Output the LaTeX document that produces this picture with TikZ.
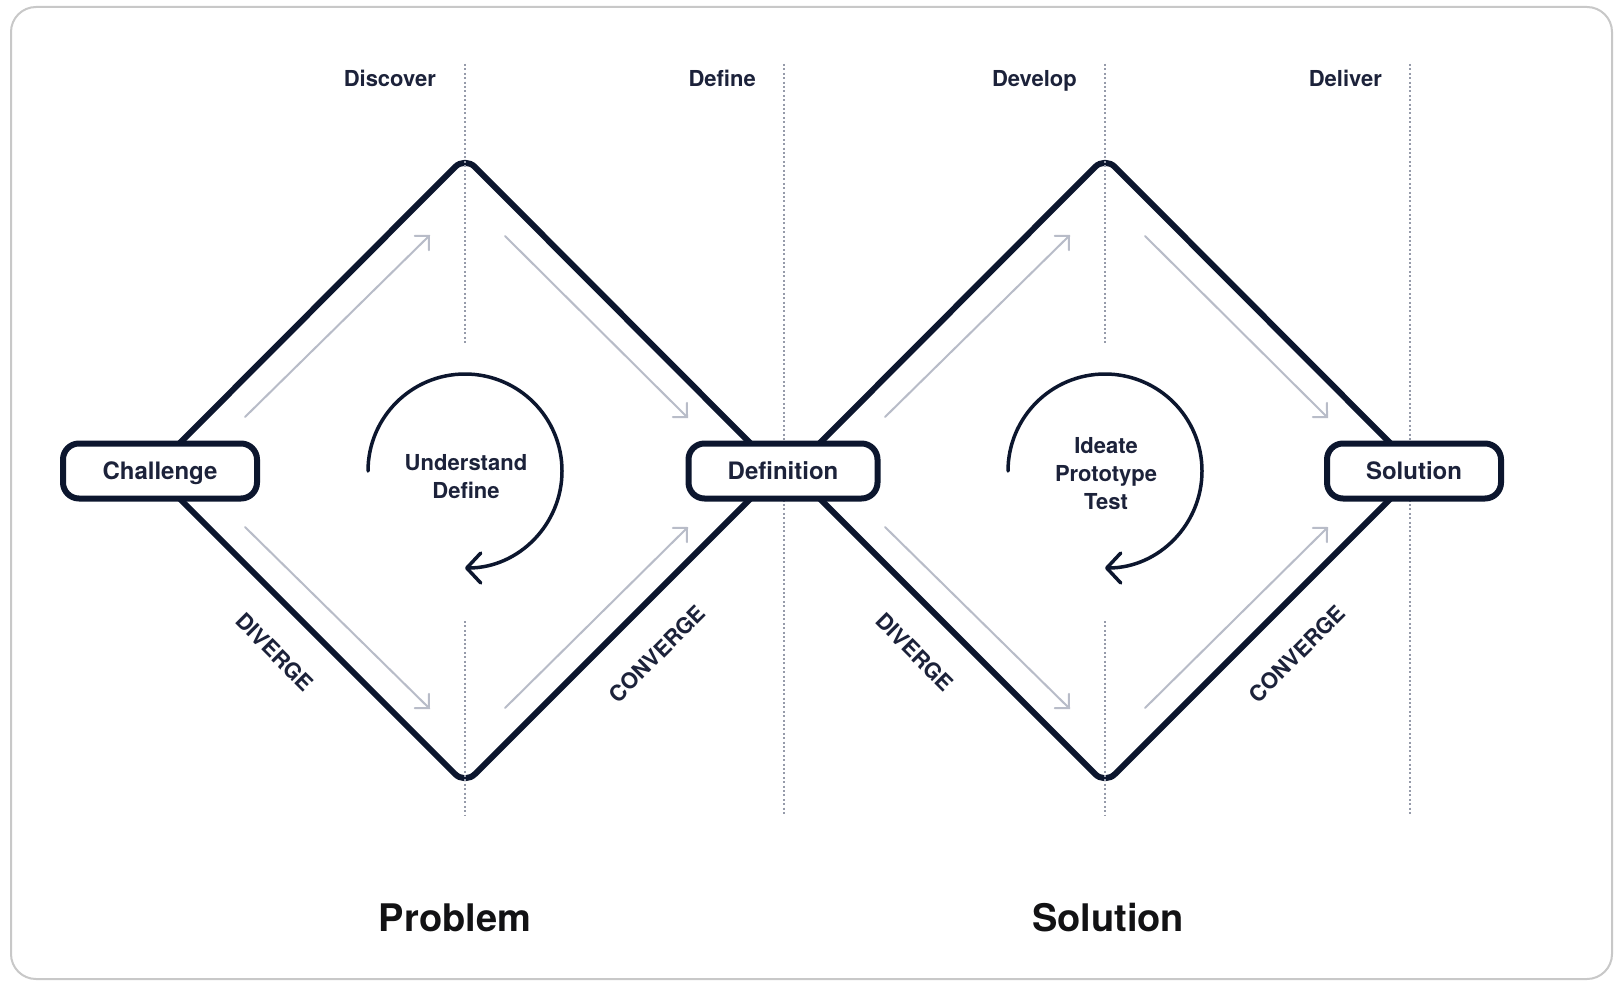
\documentclass[tikz,border=0pt]{standalone}
\usepackage{fontspec}
\setmainfont{TeX Gyre Heros}
\usetikzlibrary{arrows.meta}
\definecolor{navy}{RGB}{12,22,46}
\definecolor{labelc}{RGB}{28,34,58}
\definecolor{garrow}{RGB}{184,188,200}
\definecolor{dotc}{RGB}{150,155,170}
\definecolor{framec}{RGB}{200,200,200}
\definecolor{titlec}{RGB}{18,18,20}
\begin{document}
\begin{tikzpicture}[x=1pt,y=-1pt,
  diamondline/.style={draw=navy, line width=6, rounded corners=14, line join=round},
  dotline/.style={draw=dotc, line width=2, dash pattern=on 2pt off 2.4pt},
  grayarrow/.style={draw=garrow, line width=2, line cap=round, -{Straight Barb[length=10pt,width=20pt,line cap=round]}},
  circarrow/.style={draw=navy, line width=3.5, line cap=round, -{Straight Barb[length=14pt,width=30pt,line cap=round,line join=round]}},
  stagebox/.style={draw=navy, line width=6, fill=white, rounded corners=16, minimum height=55, inner sep=0pt, text height=17pt, text depth=0pt, text=labelc, font=\bfseries\fontsize{24}{28}\selectfont},
  phaselabel/.style={anchor=base east, text=labelc, font=\bfseries\fontsize{22}{26}\selectfont, inner sep=0pt},
  innertext/.style={align=center, text=labelc, font=\bfseries\fontsize{22}{28}\selectfont, inner sep=0pt},
  sidelabel/.style={text=labelc, font=\bfseries\fontsize{22}{26}\selectfont, inner sep=0pt, text height=16pt, text depth=0pt},
  titletext/.style={anchor=base, text=titlec, font=\bfseries\fontsize{38}{46}\selectfont, inner sep=0pt}
]
\useasboundingbox (0,0) rectangle (1624,995);
\fill[white] (0,0) rectangle (1624,995);
\draw[framec, line width=2, rounded corners=25] (11,7) rectangle (1612,979);

% diamonds
\foreach \d/\n in {0/a,640/b}{
  \coordinate (top\n) at (465+\d,157);
  \coordinate (right\n) at (778+\d,471);
  \coordinate (bot\n) at (465+\d,784);
  \coordinate (left\n) at (152+\d,471);
  \draw[diamondline] (top\n) -- (right\n) -- (bot\n) -- (left\n) -- cycle;
}

% dotted guide lines
\foreach \x/\n in {465/a,1105/b}{
  \coordinate (du1\n) at (\x,64);  \coordinate (du2\n) at (\x,343);
  \coordinate (dl1\n) at (\x,621); \coordinate (dl2\n) at (\x,815);
  \draw[dotline] (du1\n) -- (du2\n);
  \draw[dotline] (dl1\n) -- (dl2\n);
}
\foreach \x/\n in {784/c,1410/d}{
  \coordinate (df1\n) at (\x,64); \coordinate (df2\n) at (\x,815);
  \draw[dotline] (df1\n) -- (df2\n);
}

% gray direction arrows
\foreach \d/\n in {0/a,640/b}{
  \coordinate (g1s\n) at (245+\d,417); \coordinate (g1e\n) at (430+\d,235);
  \coordinate (g2s\n) at (505+\d,236); \coordinate (g2e\n) at (688+\d,418);
  \coordinate (g3s\n) at (245+\d,527); \coordinate (g3e\n) at (430+\d,709);
  \coordinate (g4s\n) at (505+\d,708); \coordinate (g4e\n) at (688+\d,527);
  \draw[grayarrow] (g1s\n) -- (g1e\n);
  \draw[grayarrow] (g2s\n) -- (g2e\n);
  \draw[grayarrow] (g3s\n) -- (g3e\n);
  \draw[grayarrow] (g4s\n) -- (g4e\n);
}

% circular arrows
\coordinate (ca) at (368,471);
\coordinate (cb) at (1008,471);
\draw[circarrow] (ca) arc[start angle=180, end angle=450, radius=97];
\draw[circarrow] (cb) arc[start angle=180, end angle=450, radius=97];

% inner texts
\node[innertext] (ud) at (466,477) {Understand\\Define};
\node[innertext] (ipt) at (1106,474) {Ideate\\Prototype\\Test};

% stage boxes
\node[stagebox, minimum width=194] (challenge) at (160,471) {Challenge};
\node[stagebox, minimum width=189] (definition) at (783,471) {Definition};
\node[stagebox, minimum width=174] (solution) at (1414,471) {Solution};

% phase labels
\node[phaselabel] (discover) at (436,87) {Discover};
\node[phaselabel] (define) at (756,87) {Define};
\node[phaselabel] (develop) at (1077,87) {Develop};
\node[phaselabel] (deliver) at (1382,87) {Deliver};

% side labels
\node[sidelabel, rotate=-45] (div1) at (275,652) {DIVERGE};
\node[sidelabel, rotate=45] (con1) at (657,654) {CONVERGE};
\node[sidelabel, rotate=-45] (div2) at (915,652) {DIVERGE};
\node[sidelabel, rotate=45] (con2) at (1297,654) {CONVERGE};

% titles
\node[titletext] (problem) at (455,931) {Problem};
\node[titletext] (soltitle) at (1108,931) {Solution};
\end{tikzpicture}
\end{document}
